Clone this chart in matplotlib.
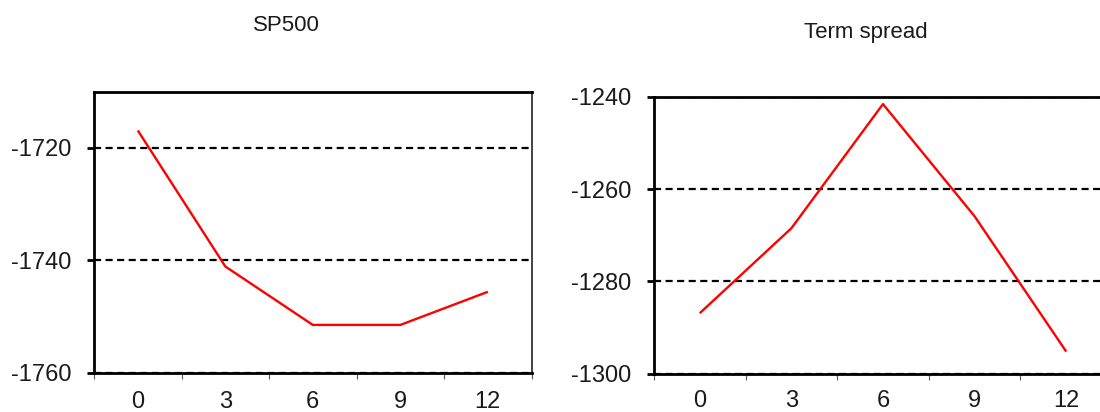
import matplotlib
matplotlib.use("Agg")
import matplotlib.pyplot as plt
import numpy as np

# horizons (months) shared by both panels
horizons = ["0", "3", "6", "9", "12"]

sp500_vals = [-1716.9, -1741.1, -1751.5, -1751.5, -1745.6]
sp500_ylim = (-1760, -1710)
sp500_ticks = [-1760, -1740, -1720]

term_vals = [-1286.9, -1268.5, -1241.6, -1265.9, -1295.2]
term_ylim = (-1300, -1240)
term_ticks = [-1300, -1280, -1260, -1240]

plt.rcParams["font.family"] = ["Liberation Sans", "DejaVu Sans"]
txt_color = "#1a1a1a"

fig = plt.figure(figsize=(11, 4.12), dpi=100)
fig.patch.set_facecolor("white")

ax1 = fig.add_axes([0.0855, 0.0954, 0.3978, 0.682])
ax2 = fig.add_axes([0.5945, 0.0930, 0.4164, 0.6723])


def draw_panel(ax, vals, ylim, yticks, xmax, xpad):
    x = np.arange(len(horizons))
    ax.plot(x, vals, color="red", lw=1.7, zorder=3, solid_capstyle="butt")
    ax.set_xlim(-0.5, xmax)
    ax.set_ylim(*ylim)

    # category labels in the middle, tick marks on the boundaries
    ax.set_xticks(x)
    ax.set_xticklabels(horizons)
    ax.set_xticks(np.arange(len(horizons) + 1) - 0.5, minor=True)
    ax.tick_params(axis="x", which="major", length=0, pad=xpad,
                   labelsize=17, labelcolor=txt_color)
    ax.tick_params(axis="x", which="minor", length=4, width=0.8,
                   color="#555555", direction="out")

    ax.set_yticks(yticks)
    ax.set_yticklabels([str(t) for t in yticks])
    ax.tick_params(axis="y", length=5, width=2, color="black", pad=11,
                   labelsize=17, labelcolor=txt_color, direction="out")

    ax.yaxis.grid(True, color="black", lw=1.6, dashes=(3.2, 2.0))
    ax.set_axisbelow(True)

    for side in ("left", "bottom", "top"):
        ax.spines[side].set_linewidth(2.0)
        ax.spines[side].set_color("black")
    ax.spines["right"].set_linewidth(1.2)
    ax.spines["right"].set_color("#222222")


draw_panel(ax1, sp500_vals, sp500_ylim, sp500_ticks, 4.5, 13)
draw_panel(ax2, term_vals, term_ylim, term_ticks, 4.5, 12)

fig.text(0.26, 0.937, "SP500", ha="center", va="center",
         fontsize=16, color=txt_color)
fig.text(0.787, 0.922, "Term spread", ha="center", va="center",
         fontsize=16, color=txt_color)

fig.savefig("out.png", dpi=100, facecolor="white")
